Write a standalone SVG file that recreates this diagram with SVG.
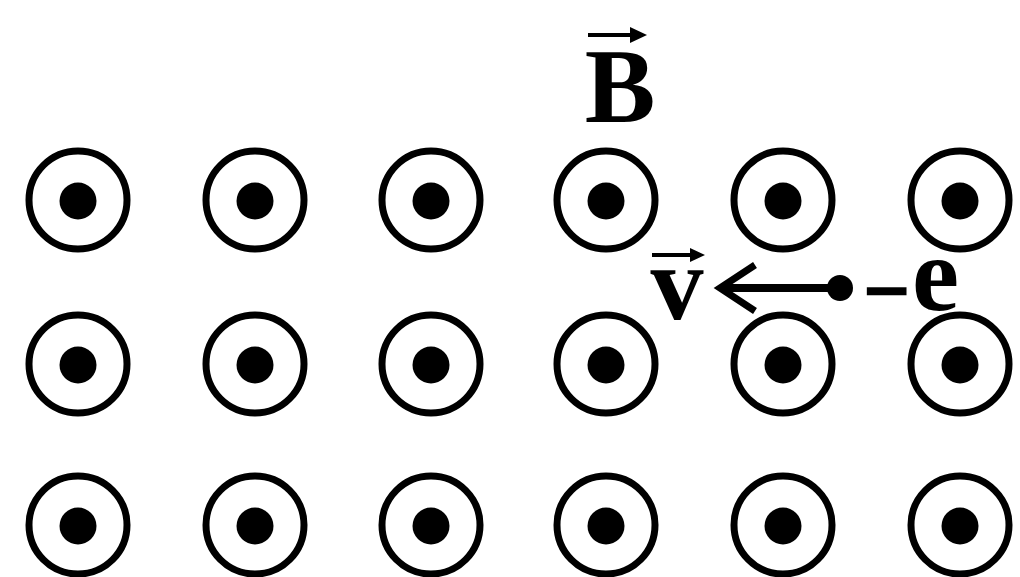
<svg xmlns="http://www.w3.org/2000/svg" width="1020" height="577" viewBox="0 0 1020 577">
<style>
.ring{fill:none;stroke:#000;stroke-width:7}
.dot{fill:#000}
.lbl{font-family:"Liberation Serif","Times New Roman",serif;font-weight:bold;font-size:106px;fill:#000}
.vec{stroke:#000;stroke-width:4;fill:none}
</style>
<defs>
<g id="fieldpt"><circle class="ring" cx="0" cy="0" r="49"/><circle class="dot" cx="0" cy="1" r="18.5"/></g>
</defs>
<rect width="1020" height="577" fill="#fff"/>
<g id="field">
<use href="#fieldpt" x="78" y="200"/><use href="#fieldpt" x="255" y="200"/><use href="#fieldpt" x="431" y="200"/><use href="#fieldpt" x="606" y="200"/><use href="#fieldpt" x="783" y="200"/><use href="#fieldpt" x="960" y="200"/>
<use href="#fieldpt" x="78" y="364"/><use href="#fieldpt" x="255" y="364"/><use href="#fieldpt" x="431" y="364"/><use href="#fieldpt" x="606" y="364"/><use href="#fieldpt" x="783" y="364"/><use href="#fieldpt" x="960" y="364"/>
<use href="#fieldpt" x="78" y="525"/><use href="#fieldpt" x="255" y="525"/><use href="#fieldpt" x="431" y="525"/><use href="#fieldpt" x="606" y="525"/><use href="#fieldpt" x="783" y="525"/><use href="#fieldpt" x="960" y="525"/>
</g>
<g id="label-B">
<text class="lbl" x="620" y="122" text-anchor="middle">B</text>
<line class="vec" x1="588" y1="35" x2="638" y2="35"/>
<path d="M630 27 L647 35 L630 43 Z" fill="#000"/>
</g>
<g id="label-v">
<text class="lbl" x="677" y="319" text-anchor="middle">v</text>
<line class="vec" x1="652" y1="255" x2="696" y2="255"/>
<path d="M690 248 L705 255 L690 262 Z" fill="#000"/>
</g>
<g id="electron">
<circle cx="840" cy="288" r="13" fill="#000"/>
<text class="lbl"><tspan x="864" y="318" style="font-size:80px;stroke:#000;stroke-width:2.5">−</tspan><tspan x="912" y="310">e</tspan></text>
</g>
<g id="connectors">
<line x1="840" y1="288" x2="722" y2="288" stroke="#000" stroke-width="8"/>
<path d="M755 265 L720 288 L755 311" fill="none" stroke="#000" stroke-width="7"/>
</g>
</svg>
